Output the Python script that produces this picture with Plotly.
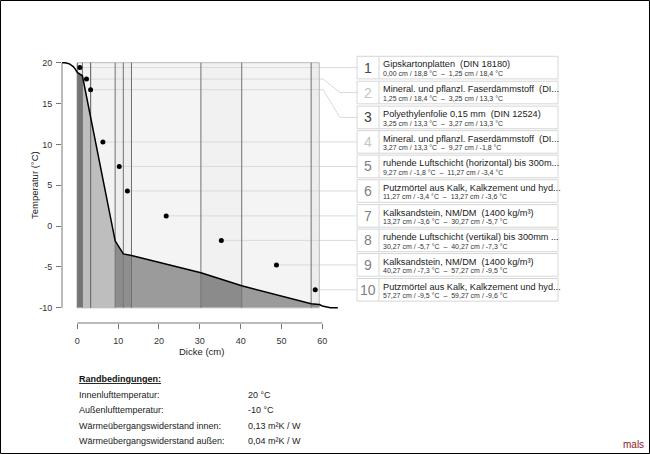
import plotly.graph_objects as go

# ---------------- data ----------------
layer_no = [1, 2, 3, 4, 5, 6, 7, 8, 9, 10]
layer_names = [
    "Gipskartonplatten  (DIN 18180)",
    "Mineral. und pflanzl. Faserdämmstoff  (DI...",
    "Polyethylenfolie 0,15 mm  (DIN 12524)",
    "Mineral. und pflanzl. Faserdämmstoff  (DI...",
    "ruhende Luftschicht (horizontal) bis 300m...",
    "Putzmörtel aus Kalk, Kalkzement und hyd...",
    "Kalksandstein, NM/DM  (1400 kg/m³)",
    "ruhende Luftschicht (vertikal) bis 300mm ...",
    "Kalksandstein, NM/DM  (1400 kg/m³)",
    "Putzmörtel aus Kalk, Kalkzement und hyd...",
]
interface_x = [0.00, 1.25, 3.25, 3.27, 9.27, 11.27, 13.27, 30.27, 40.27, 57.27, 59.27]
interface_T = [18.8, 18.4, 13.3, 13.3, -1.8, -3.4, -3.6, -5.7, -7.3, -9.5, -9.6]

inner_bl_x = [-3.75, -3.0, -2.0, -1.5, -1.0, -0.5, 0.0]
inner_bl_T = [20.0, 19.99, 19.88, 19.74, 19.53, 19.22, 18.8]
outer_bl_x = [59.27, 60.0, 61.0, 62.0, 63.0, 63.8]
outer_bl_T = [-9.6, -9.77, -9.91, -9.98, -10.0, -10.0]

dot_x = [0.63, 2.25, 3.26, 6.27, 10.27, 12.27, 21.77, 35.27, 48.77, 58.27]
dot_T = [19.4, 18.0, 16.7, 10.3, 7.3, 4.3, 1.25, -1.75, -4.75, -7.8]
label_T = [19.4, 16.35, 13.3, 10.3, 7.3, 4.3, 1.25, -1.75, -4.75, -7.8]

T_in, T_out = 20, -10

x_ticks = [0, 10, 20, 30, 40, 50, 60]
x_ticklabels = ["0", "10", "20", "30", "40", "50", "60"]
y_ticks = [-10, -5, 0, 5, 10, 15, 20]
y_ticklabels = ["-10", "-5", "0", "5", "10", "15", "20"]

cond_title = "Randbedingungen:"
cond_labels = ["Innenlufttemperatur:", "Außenlufttemperatur:",
               "Wärmeübergangswiderstand innen:", "Wärmeübergangswiderstand außen:"]
cond_values = ["20 °C", "-10 °C", "0,13 m²K / W", "0,04 m²K / W"]

# ---------------- styles ----------------
fill_below = ['#747474', '#bebebe', '#5a5a5a', '#bebebe', '#8c8c8c',
              '#8f8f8f', '#9b9b9b', '#8b8b8b', '#9b9b9b', '#8d8d8d']
fill_above = ['#efefef', '#f3f3f3', '#efefef', '#f3f3f3', '#eeeeee',
              '#efefef', '#f4f4f4', '#f1f1f1', '#f4f4f4', '#ededed']
number_colors = ['#4a4a4a', '#c4c4c4', '#3c3c3c', '#c4c4c4', '#808080',
                 '#808080', '#808080', '#808080', '#808080', '#808080']
FONT = "Liberation Sans, Arial, sans-serif"

# ---------------- geometry (pixels) ----------------
W, H = 650, 454
PL, PR, PT, PB = 62, 358, 59, 323
X0PX, XS = 77.3, 4.0833
Y20PX, YS = 62.7, 8.17

xrange = [(PL - X0PX) / XS, (PR - X0PX) / XS]
yrange = [20 - (PB - Y20PX) / YS, 20 - (PT - Y20PX) / YS]


def pxx(px):
    return (px - PL) / (PR - PL)


def pyy(py):
    return (PB - py) / (PB - PT)


def T2py(T):
    return Y20PX + (20 - T) * YS


def fmt2(v):
    return f"{v:.2f}".replace('.', ',')


def fmt1(v):
    return f"{v:.1f}".replace('.', ',')


fig = go.Figure()

# layer fills
for i in range(len(layer_no)):
    x0, x1 = interface_x[i], interface_x[i + 1]
    t0, t1 = interface_T[i], interface_T[i + 1]
    fig.add_trace(go.Scatter(x=[x0, x0, x1, x1, x0], y=[t0, T_in, T_in, t1, t0],
                             mode='lines', fill='toself', fillcolor=fill_above[i],
                             line=dict(width=0), hoverinfo='skip', showlegend=False))
    fig.add_trace(go.Scatter(x=[x0, x0, x1, x1, x0], y=[T_out, t0, t1, T_out, T_out],
                             mode='lines', fill='toself', fillcolor=fill_below[i],
                             line=dict(width=0), hoverinfo='skip', showlegend=False))

# leader lines
bend0 = (323 - X0PX) / XS
bend1 = (340 - X0PX) / XS
for i in range(len(layer_no)):
    fig.add_trace(go.Scatter(x=[dot_x[i], bend0, bend1, xrange[1]],
                             y=[dot_T[i], dot_T[i], label_T[i], label_T[i]],
                             mode='lines', line=dict(color='#dadada', width=1),
                             hoverinfo='skip', showlegend=False))

# wall outline
fig.add_trace(go.Scatter(x=[interface_x[0], interface_x[0], interface_x[-1], interface_x[-1], interface_x[0]],
                         y=[T_out, T_in, T_in, T_out, T_out], mode='lines',
                         line=dict(color='#b8b8b8', width=1), hoverinfo='skip', showlegend=False))
# layer boundaries
vx, vy = [], []
for x in interface_x[:-1]:
    vx += [x, x, None]
    vy += [T_out, T_in, None]
fig.add_trace(go.Scatter(x=vx, y=vy, mode='lines', line=dict(color='#707070', width=1),
                         hoverinfo='skip', showlegend=False))

# temperature curve
cx = inner_bl_x + interface_x[1:] + outer_bl_x[1:]
cy = inner_bl_T + interface_T[1:] + outer_bl_T[1:]
fig.add_trace(go.Scatter(x=cx, y=cy, mode='lines', line=dict(color='black', width=1.5),
                         hoverinfo='skip', showlegend=False))

# dots
fig.add_trace(go.Scatter(x=dot_x, y=dot_T, mode='markers',
                         marker=dict(color='black', size=5), hoverinfo='skip', showlegend=False))

shapes = []
annotations = []

# axis lines
shapes.append(dict(type='line', xref='paper', yref='y', x0=0, x1=0, y0=y_ticks[0], y1=y_ticks[-1],
                   line=dict(color='#777777', width=1)))
shapes.append(dict(type='line', xref='x', yref='paper', x0=x_ticks[0], x1=x_ticks[-1], y0=0, y1=0,
                   line=dict(color='#777777', width=1)))

# axis titles
annotations.append(dict(text="Temperatur (°C)", xref='paper', yref='paper', x=pxx(34), y=pyy(185),
                        xanchor='center', yanchor='middle',
                        textangle=-90, showarrow=False, font=dict(size=9.5, color='#222', family=FONT)))
annotations.append(dict(text="Dicke (cm)", xref='paper', yref='paper', x=pxx(201), y=pyy(351.5),
                        xanchor='center', yanchor='middle',
                        showarrow=False, font=dict(size=9.5, color='#222', family=FONT)))

# legend boxes
BL, BD, BR = 357, 379, 558
for i in range(len(layer_no)):
    c = T2py(label_T[i])
    top, bot = c - 11.3, c + 11.3
    shapes.append(dict(type='rect', xref='paper', yref='paper', x0=pxx(BL), x1=pxx(BR),
                       y0=pyy(bot), y1=pyy(top), fillcolor='white',
                       line=dict(color='#d6d6d6', width=1)))
    shapes.append(dict(type='line', xref='paper', yref='paper', x0=pxx(BD), x1=pxx(BD),
                       y0=pyy(bot), y1=pyy(top), line=dict(color='#d6d6d6', width=1)))
    annotations.append(dict(text=str(layer_no[i]), xref='paper', yref='paper', x=pxx((BL + BD) / 2),
                            y=pyy(c), xanchor='center', yanchor='middle', showarrow=False,
                            font=dict(size=14, color=number_colors[i], family=FONT)))
    annotations.append(dict(text=layer_names[i].replace("  ", "\u00a0\u00a0"), xref='paper', yref='paper',
                            x=pxx(BD + 2), y=pyy(top + 8), xanchor='left', yanchor='middle',
                            showarrow=False, font=dict(size=9.2, color='#1a1a1a', family=FONT)))
    sub = (f"{fmt2(interface_x[i])} cm / {fmt1(interface_T[i])} °C\u00a0\u00a0–\u00a0\u00a0"
           f"{fmt2(interface_x[i + 1])} cm / {fmt1(interface_T[i + 1])} °C")
    annotations.append(dict(text=sub, xref='paper', yref='paper',
                            x=pxx(BD + 2), y=pyy(top + 17.3), xanchor='left', yanchor='middle',
                            showarrow=False, font=dict(size=7, color='#333', family=FONT)))

# boundary conditions
annotations.append(dict(text=f"<b><span style='text-decoration:underline'>{cond_title}</span></b>",
                        xref='paper', yref='paper', x=pxx(77), y=pyy(379), xanchor='left',
                        yanchor='middle', showarrow=False, font=dict(size=9, color='#111', family=FONT)))
for k in range(len(cond_labels)):
    yy = pyy(394.5 + 15.5 * k)
    annotations.append(dict(text=cond_labels[k], xref='paper', yref='paper', x=pxx(77), y=yy,
                            xanchor='left', yanchor='middle', showarrow=False,
                            font=dict(size=9, color='#222', family=FONT)))
    annotations.append(dict(text=cond_values[k], xref='paper', yref='paper', x=pxx(245.5), y=yy,
                            xanchor='left', yanchor='middle', showarrow=False,
                            font=dict(size=9, color='#222', family=FONT)))

annotations.append(dict(text="mals", xref='paper', yref='paper', x=pxx(646), y=pyy(444),
                        xanchor='right', yanchor='middle', showarrow=False,
                        font=dict(size=10, color='#8b1a1a', family=FONT)))

# frame
shapes.append(dict(type='rect', xref='paper', yref='paper', x0=pxx(0.5), x1=pxx(649.5),
                   y0=pyy(453.5), y1=pyy(0.5), line=dict(color='black', width=1)))

fig.update_layout(
    width=W, height=H,
    margin=dict(l=PL, r=W - PR, t=PT, b=H - PB, pad=0),
    paper_bgcolor='white', plot_bgcolor='white',
    font=dict(family=FONT, size=9, color='#333'),
    showlegend=False,
    shapes=shapes, annotations=annotations,
    xaxis=dict(range=xrange, showline=False, showgrid=False, zeroline=False,
               ticks='outside', ticklen=5, tickcolor='#777777', tickwidth=1,
               tickvals=x_ticks, ticktext=x_ticklabels, ticklabelstandoff=4,
               tickfont=dict(size=9, color='#333', family=FONT), fixedrange=True),
    yaxis=dict(range=yrange, showline=False, showgrid=False, zeroline=False,
               ticks='outside', ticklen=5, tickcolor='#777777', tickwidth=1,
               tickvals=y_ticks, ticktext=y_ticklabels, ticklabelstandoff=2,
               tickfont=dict(size=9, color='#333', family=FONT), fixedrange=True),
)

fig.write_html("out.html", config={'displayModeBar': False, 'staticPlot': True},
               post_script="document.body.style.margin='0px';document.body.style.overflow='hidden';")
